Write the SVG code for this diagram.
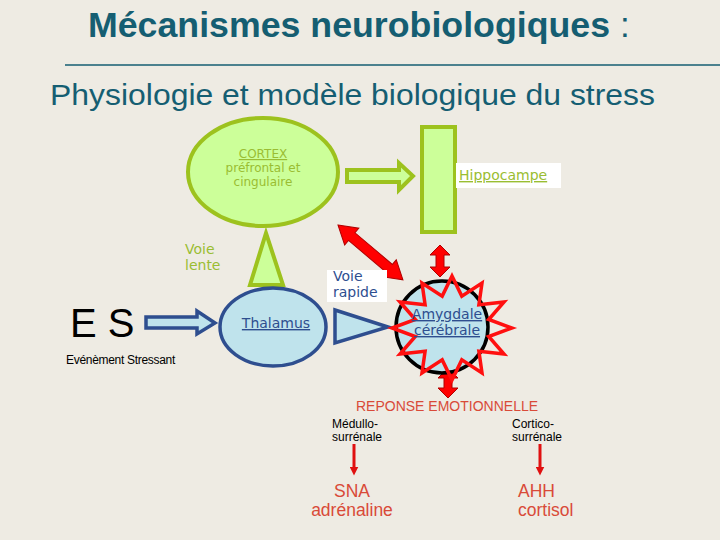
<svg xmlns="http://www.w3.org/2000/svg" width="720" height="540" viewBox="0 0 720 540">
<style>
.bg{fill:#EEEBE3}
.gfill{fill:#CCFF99;stroke:#9DC21E;stroke-width:4}
.bfill{fill:#BFE3EC;stroke:#2E4E8F;stroke-width:3.5}
.gtxt{font-family:"DejaVu Sans",Verdana,sans-serif;fill:#9ABD32}
.btxt{font-family:"DejaVu Sans",Verdana,sans-serif;fill:#2E4E8F}
.rtxt{font-family:"Liberation Sans",Arial,sans-serif;fill:#D94A38}
.ktxt{font-family:"Liberation Sans",Arial,sans-serif;fill:#000}
.red{fill:#FF0000;stroke:#B00000;stroke-width:1}
.teal{font-family:"Liberation Sans",Arial,sans-serif;fill:#155E72}
</style>
<defs>
<marker id="rh" markerWidth="9" markerHeight="9" refX="4.5" refY="4.5" orient="auto" markerUnits="userSpaceOnUse"><path d="M0,0 L9,4.5 L0,9 Z" fill="#E01010"/></marker>
</defs>
<rect class="bg" x="0" y="0" width="720" height="540"/>

<g id="title">
<text class="teal" x="88" y="37" font-size="35" font-weight="bold" textLength="522" lengthAdjust="spacingAndGlyphs">Mécanismes neurobiologiques</text>
<text class="teal" x="620" y="37" font-size="35">:</text>
<line x1="65" y1="65" x2="720" y2="65" stroke="#155E72" stroke-width="1.5"/>
<text class="teal" x="50" y="105" font-size="30" textLength="605" lengthAdjust="spacingAndGlyphs">Physiologie et modèle biologique du stress</text>
</g>

<g id="connectors">
<polygon class="gfill" stroke-width="3.5" points="347,170 399,170 399,163 413,176 399,190 399,182 347,182"/>
<polygon class="gfill" stroke-width="3.5" points="266,233 283,285 250,285"/>
<polygon class="bfill" points="146,317 197,317 197,311 215,323 197,334 197,328 146,328"/>
<polygon class="bfill" points="335,310 388,327 335,343"/>
<polygon class="red" transform="translate(338,225) rotate(40.2)" points="0,0 18,-11 18,-5 67,-5 67,-11 85,0 67,11 67,5 18,5 18,11"/>
<polygon class="red" transform="translate(440,245) rotate(90)" points="0,0 10,-10 10,-4 22,-4 22,-10 32,0 22,10 22,4 10,4 10,10"/>
<polygon class="red" transform="translate(448,368) rotate(90)" points="0,0 10,-10 10,-4 20,-4 20,-10 30,0 20,10 20,4 10,4 10,10"/>
<line x1="354" y1="444" x2="354" y2="471" stroke="#E01010" stroke-width="3" marker-end="url(#rh)"/>
<line x1="540" y1="444" x2="540" y2="471" stroke="#E01010" stroke-width="3" marker-end="url(#rh)"/>
</g>

<g id="cortex">
<ellipse class="gfill" cx="263" cy="172" rx="75" ry="54"/>
<text class="gtxt" font-size="12" text-anchor="middle"><tspan x="263" y="158" text-decoration="underline">CORTEX</tspan><tspan x="263" y="172">préfrontal et</tspan><tspan x="263" y="186">cingulaire</tspan></text>
</g>

<g id="voie-lente">
<text class="gtxt" font-size="14"><tspan x="185" y="254">Voie</tspan><tspan x="185" y="270">lente</tspan></text>
</g>

<g id="hippocampe">
<rect class="gfill" stroke-width="3.5" x="422" y="127" width="33" height="105"/>
<rect x="456" y="163" width="105" height="25" fill="#FFFFFF"/>
<text class="gtxt" x="459" y="180" font-size="14" text-decoration="underline">Hippocampe</text>
</g>

<g id="es">
<text class="ktxt" x="70" y="337" font-size="40">E S</text>
<text class="ktxt" x="66" y="364" font-size="12" letter-spacing="-0.3">Evénèment Stressant</text>
</g>

<g id="thalamus">
<ellipse class="bfill" cx="273" cy="327" rx="53" ry="39"/>
<text class="btxt" x="276" y="328" font-size="14" text-anchor="middle" text-decoration="underline">Thalamus</text>
</g>

<g id="voie-rapide">
<rect x="327" y="270" width="60" height="32" fill="#FFFFFF"/>
<text class="btxt" font-size="14"><tspan x="333" y="281">Voie</tspan><tspan x="333" y="297">rapide</tspan></text>
</g>

<g id="amygdale">
<circle cx="442" cy="327" r="46" fill="#BFE3EC" stroke="#000" stroke-width="3.5"/>
<polygon fill="none" stroke="#FF1010" stroke-width="3.5" stroke-linejoin="miter" points="452,276 461.8,296.1 482,283 478.9,304.7 504,302 488.7,319.5 512,328 488.7,336.5 504,354 478.9,351.3 482,373 461.8,359.9 452,380 442.2,359.9 422,373 425.1,351.3 400,354 415.3,336.5 392,328 415.3,319.5 400,302 425.1,304.7 422,283 442.2,296.1"/>
<text class="btxt" font-size="14" text-anchor="middle" text-decoration="underline"><tspan x="447" y="319">Amygdale</tspan><tspan x="447" y="335">cérébrale</tspan></text>
</g>

<g id="reponse">
<text class="rtxt" x="356" y="411" font-size="14">REPONSE EMOTIONNELLE</text>
</g>

<g id="medullo">
<text class="ktxt" font-size="12"><tspan x="332" y="428">Médullo-</tspan><tspan x="332" y="441">surrénale</tspan></text>
</g>

<g id="cortico">
<text class="ktxt" font-size="12"><tspan x="512" y="428">Cortico-</tspan><tspan x="512" y="441">surrénale</tspan></text>
</g>

<g id="sna">
<text class="rtxt" font-size="17.5" text-anchor="middle"><tspan x="352" y="497">SNA</tspan><tspan x="352" y="516">adrénaline</tspan></text>
</g>

<g id="ahh">
<text class="rtxt" font-size="17.5"><tspan x="518" y="497">AHH</tspan><tspan x="518" y="516">cortisol</tspan></text>
</g>
</svg>
